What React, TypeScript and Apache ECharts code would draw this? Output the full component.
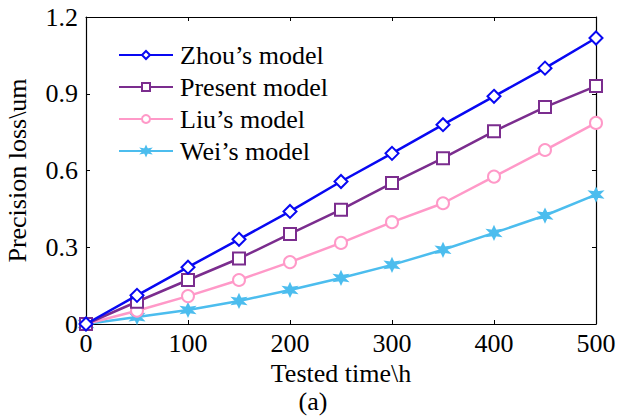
import React, { useEffect, useRef } from "react";
import * as echarts from "echarts";

const times = [0, 50, 100, 150, 200, 250, 300, 350, 400, 450, 500];
const zhou = [0, 0.112, 0.222, 0.331, 0.44, 0.557, 0.667, 0.779, 0.89, 1.0, 1.118];
const present = [0, 0.087, 0.172, 0.256, 0.352, 0.447, 0.551, 0.648, 0.753, 0.848, 0.93];
const liu = [0, 0.052, 0.109, 0.172, 0.242, 0.317, 0.398, 0.472, 0.576, 0.68, 0.786];
const wei = [0, 0.027, 0.055, 0.09, 0.133, 0.18, 0.231, 0.29, 0.356, 0.424, 0.506];
const names = ["Zhou\u2019s model", "Present model", "Liu\u2019s model", "Wei\u2019s model"];
const colors = ["#0808f2", "#7b2d8e", "#ff99c8", "#4cbdee"];

const FONT = "'Liberation Serif', 'Times New Roman', serif";
const FS = 26;
const starPath =
  "path://M0,-10 L2.5,-4 L9,-5 L4.5,0 L9,5 L2.5,4 L0,10 L-2.5,4 L-9,5 L-4.5,0 L-9,-5 L-2.5,-4 Z";

export default function App() {
  const ref = useRef<HTMLDivElement>(null);
  useEffect(() => {
    if (!ref.current) return;
    const chart = echarts.init(ref.current, null, { renderer: "svg" });
    const pair = (arr: number[]) => times.map((t, i) => [t, arr[i]]);
    const series = [zhou, present, liu, wei].map((d, i) => ({
      name: names[i],
      type: "line",
      data: pair(d),
      symbol: ["emptyDiamond", "emptyRect", "emptyCircle", starPath][i],
      symbolSize: [13, 12, 12, 11][i],
      showSymbol: true,
      lineStyle: { color: colors[i], width: 2.5 },
      itemStyle: { color: colors[i], borderColor: colors[i], borderWidth: 2.2 },
      z: 10 - i,
    }));
    const axisCommon = {
      axisLine: { show: true, onZero: false, lineStyle: { color: "#000", width: 1.2 } },
      axisTick: { show: true, inside: true, length: 4, lineStyle: { color: "#000" } },
      splitLine: { show: false },
    };
    const textStyle = { fontFamily: FONT, fontSize: FS, color: "#000" };
    chart.setOption({
      animation: false,
      backgroundColor: "#fff",
      grid: {
        left: 86,
        top: 17,
        width: 510,
        height: 307,
        containLabel: false,
        outerBoundsMode: "none",
      },
      legend: {
        orient: "vertical",
        left: 113,
        top: 37,
        itemWidth: 54,
        itemHeight: 10,
        itemGap: 6,
        textStyle: { ...textStyle, padding: [0, 0, 0, 2] },
        data: names,
      },
      xAxis: [
        {
          type: "value",
          min: 0,
          max: 500,
          interval: 100,
          position: "bottom",
          ...axisCommon,
          axisLabel: { ...textStyle, margin: 6 },
          name: "Tested time\\h",
          nameLocation: "middle",
          nameGap: 35,
          nameTextStyle: { ...textStyle, lineHeight: 24 },
        },
        {
          type: "value",
          min: 0,
          max: 500,
          interval: 100,
          position: "top",
          ...axisCommon,
          axisLabel: { show: false },
        },
      ],
      yAxis: [
        {
          type: "value",
          min: 0,
          max: 1.2,
          interval: 0.3,
          position: "left",
          ...axisCommon,
          axisLabel: {
            ...textStyle,
            margin: 8,
            formatter: (v: number) => (v === 0 ? "0" : v.toFixed(1)),
          },
          name: "Precision loss\\um",
          nameLocation: "middle",
          nameGap: 56,
          nameTextStyle: textStyle,
        },
        {
          type: "value",
          min: 0,
          max: 1.2,
          interval: 0.3,
          position: "right",
          ...axisCommon,
          axisLabel: { show: false },
        },
      ],
      graphic: [
        {
          type: "text",
          x: 313,
          y: 401,
          style: {
            text: "(a)",
            font: `${FS}px ${FONT}`,
            fill: "#000",
            align: "center",
            verticalAlign: "middle",
            lineHeight: 24,
          },
        },
      ],
      series,
    });
    return () => chart.dispose();
  }, []);
  return (
    <div
      ref={ref}
      style={{ position: "fixed", left: 0, top: 0, width: 619, height: 418 }}
    />
  );
}
